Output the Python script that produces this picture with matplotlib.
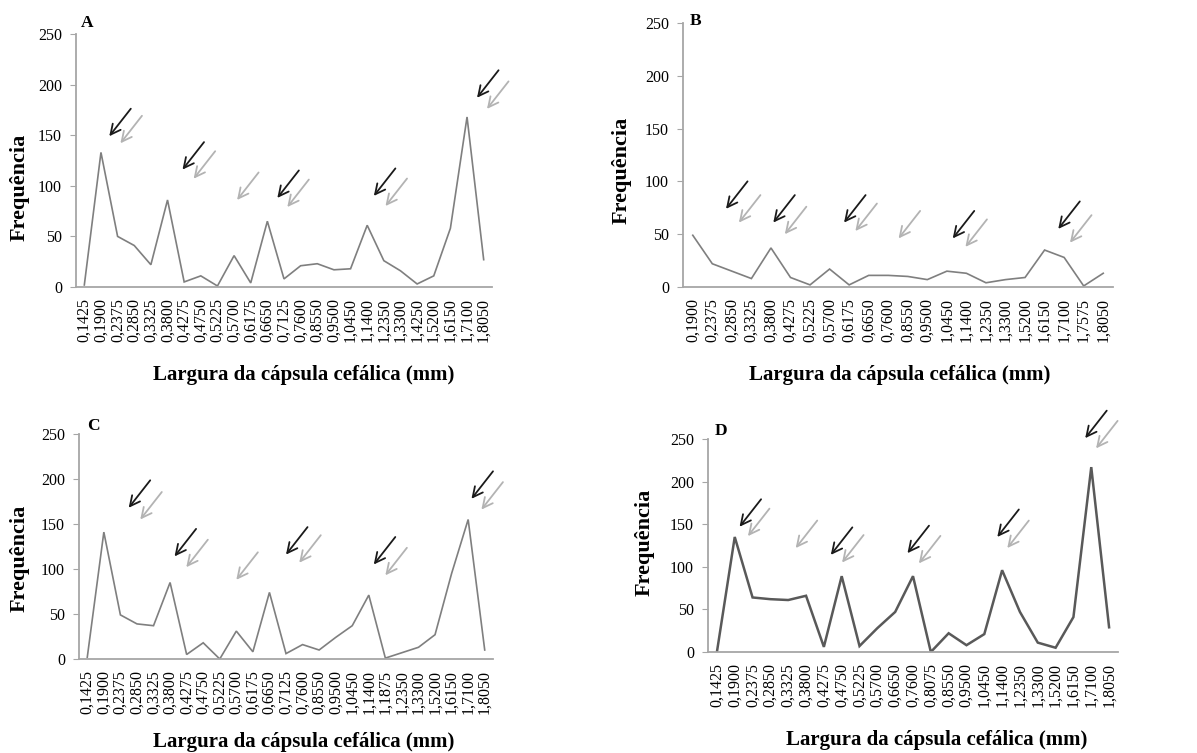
import matplotlib
matplotlib.use("Agg")
import matplotlib.pyplot as plt

plt.rcParams['font.family'] = ['Liberation Serif', 'DejaVu Serif']

W, H = 1197, 753

# ---------------- data ----------------
cats_A = ["0,1425", "0,1900", "0,2375", "0,2850", "0,3325", "0,3800", "0,4275", "0,4750",
          "0,5225", "0,5700", "0,6175", "0,6650", "0,7125", "0,7600", "0,8550", "0,9500",
          "1,0450", "1,1400", "1,2350", "1,3300", "1,4250", "1,5200", "1,6150", "1,7100", "1,8050"]
vals_A = [2, 133, 50, 41, 22, 86, 5, 11, 1, 31, 4, 65, 8, 21, 23, 17, 18, 61, 26, 16, 3, 11, 58, 168, 27]

cats_B = ["0,1900", "0,2375", "0,2850", "0,3325", "0,3800", "0,4275", "0,5225", "0,5700",
          "0,6175", "0,6650", "0,7600", "0,8550", "0,9500", "1,0450", "1,1400", "1,2350",
          "1,3300", "1,5200", "1,6150", "1,7100", "1,7575", "1,8050"]
vals_B = [49, 22, 15, 8, 37, 9, 2, 17, 2, 11, 11, 10, 7, 15, 13, 4, 7, 9, 35, 28, 1, 13]

cats_C = ["0,1425", "0,1900", "0,2375", "0,2850", "0,3325", "0,3800", "0,4275", "0,4750",
          "0,5225", "0,5700", "0,6175", "0,6650", "0,7125", "0,7600", "0,8550", "0,9500",
          "1,0450", "1,1400", "1,1875", "1,2350", "1,3300", "1,5200", "1,6150", "1,7100", "1,8050"]
vals_C = [2, 141, 49, 39, 37, 85, 5, 18, 0, 31, 8, 74, 6, 16, 10, 24, 37, 71, 1, 7, 13, 27, 95, 155, 10]

cats_D = ["0,1425", "0,1900", "0,2375", "0,2850", "0,3325", "0,3800", "0,4275", "0,4750",
          "0,5225", "0,5700", "0,6650", "0,7600", "0,8075", "0,8550", "0,9500", "1,0450",
          "1,1400", "1,2350", "1,3300", "1,5200", "1,6150", "1,7100", "1,8050"]
vals_D = [0, 135, 64, 62, 61, 66, 6, 89, 7, 28, 47, 89, 0, 22, 8, 21, 96, 47, 11, 5, 41, 217, 29]

# arrow heads (category index, frequency)
black_A = [(1.5, 149), (5.9, 116), (11.6, 88), (17.4, 90), (23.6, 187)]
gray_A = [(2.17, 142), (6.57, 107), (9.18, 86), (12.2, 79), (18.1, 80), (24.2, 176)]
black_B = [(1.7, 74), (4.12, 61), (7.74, 61), (13.3, 46), (18.7, 55)]
gray_B = [(2.36, 61), (4.71, 50), (8.32, 53), (10.53, 46), (13.95, 38), (19.3, 42)]
black_C = [(2.5, 168), (5.27, 114), (12.0, 116), (17.3, 105), (23.2, 178)]
gray_C = [(3.2, 155), (5.98, 102), (9.0, 88), (12.8, 107), (18.0, 93), (23.8, 166)]
black_D = [(1.27, 147), (6.39, 114), (10.69, 116), (15.73, 135), (20.66, 251)]
gray_D = [(1.74, 136), (4.42, 122), (7.02, 105), (11.33, 104), (16.29, 122), (21.27, 239)]

yticks = [0, 50, 100, 150, 200, 250]

panels = [
    ("A", cats_A, vals_A, black_A, gray_A, (76, 492, 34, 287), "#7f7f7f", 1.2, (81, 27), (20, 187), (304, 375)),
    ("B", cats_B, vals_B, black_B, gray_B, (683, 1113, 23, 287), "#7f7f7f", 1.2, (690, 25), (622, 170), (900, 375)),
    ("C", cats_C, vals_C, black_C, gray_C, (79, 493, 434, 659), "#7f7f7f", 1.2, (87, 430), (20, 558), (304, 742)),
    ("D", cats_D, vals_D, black_D, gray_D, (708, 1118, 439, 652), "#595959", 1.8, (715, 435), (645, 542), (937, 740)),
]

fig = plt.figure(figsize=(W / 100, H / 100), dpi=100)

spine_col = "#a6a6a6"
for letter, cats, vals, blacks, grays, (l, r, t, b), lc, lw, lpos, ylpos, xlpos in panels:
    ax = fig.add_axes([l / W, 1 - b / H, (r - l) / W, (b - t) / H])
    x = list(range(len(cats)))
    ax.plot(x, vals, color=lc, lw=lw, solid_joinstyle='miter')
    ax.set_xlim(-0.5, len(cats) - 0.5)
    ax.set_ylim(0, 250)
    ax.set_yticks(yticks)
    ax.set_yticklabels([str(v) for v in yticks], fontsize=11.5)
    ax.set_xticks(x)
    ax.set_xticklabels(cats, rotation=90, fontsize=11.5)
    ax.tick_params(axis='x', length=0, pad=8)
    ax.tick_params(axis='y', length=4, color=spine_col, pad=6)
    for s in ("top", "right"):
        ax.spines[s].set_visible(False)
    for s in ("left", "bottom"):
        ax.spines[s].set_color(spine_col)
        ax.spines[s].set_linewidth(1.3)
    ax.set_facecolor("none")

    for hx, hy in blacks:
        ax.annotate("", xy=(hx, hy), xytext=(15.5, 19.8), textcoords="offset points",
                    annotation_clip=False,
                    arrowprops=dict(arrowstyle="->,head_length=0.6,head_width=0.3",
                                    color="#1a1a1a", lw=1.3, mutation_scale=12,
                                    shrinkA=0, shrinkB=0))
    for hx, hy in grays:
        ax.annotate("", xy=(hx, hy), xytext=(15.5, 19.8), textcoords="offset points",
                    annotation_clip=False,
                    arrowprops=dict(arrowstyle="->,head_length=0.6,head_width=0.3",
                                    color="#b3b3b3", lw=1.3, mutation_scale=12,
                                    shrinkA=0, shrinkB=0))

    fig.text(lpos[0] / W, 1 - lpos[1] / H, letter, fontsize=12.5, fontweight="bold",
             ha="left", va="baseline")
    fig.text(ylpos[0] / W, 1 - ylpos[1] / H, "Frequência", fontsize=16, fontweight="bold",
             rotation=90, ha="center", va="center")
    fig.text(xlpos[0] / W, 1 - xlpos[1] / H, "Largura da cápsula cefálica (mm)", fontsize=15,
             fontweight="bold", ha="center", va="center")

fig.savefig("out.png", dpi=100, facecolor="white")
